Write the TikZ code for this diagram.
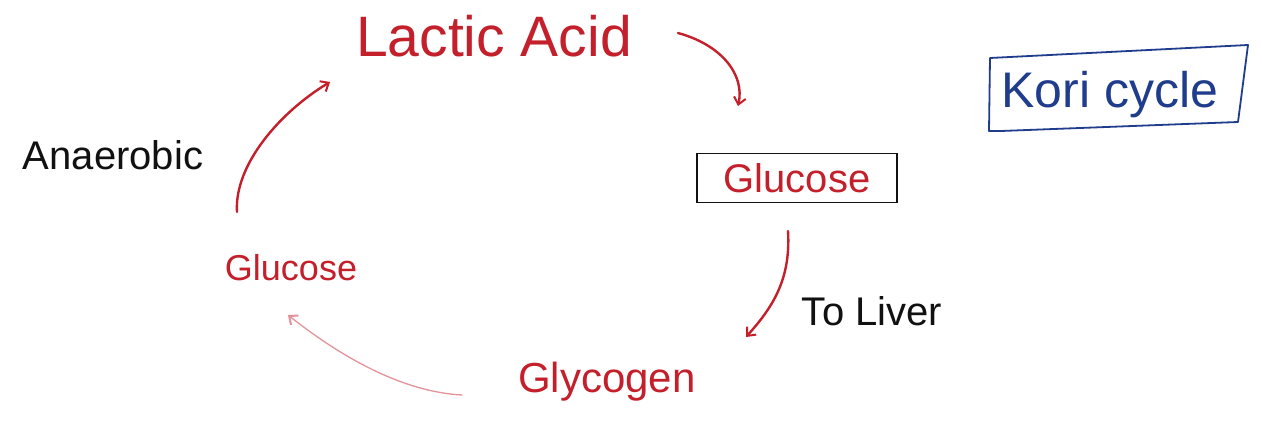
\documentclass[tikz,border=0pt]{standalone}
\usepackage{fontspec}
\setmainfont{Liberation Sans}
\usetikzlibrary{arrows.meta}
\definecolor{penred}{HTML}{C4202C}
\definecolor{penpink}{HTML}{E3939A}
\definecolor{penblue}{HTML}{203C8C}
\definecolor{penblack}{HTML}{111111}
\begin{document}
\begin{tikzpicture}[x=1pt,y=-1pt,
  lbl/.style={inner sep=1pt, anchor=center},
  redlbl/.style={lbl, text=penred},
  blklbl/.style={lbl, text=penblack},
  arr/.style={draw=penred, line width=2.4pt, line cap=round,
    -{Straight Barb[length=7pt,width=12pt,line width=2pt]}},
  arrlight/.style={arr, draw=penpink, line width=1.3pt},
  boxline/.style={draw=penblack, line width=1.8pt, line join=round}]
\useasboundingbox (0,0) rectangle (1262,444);
\fill[white] (0,0) rectangle (1262,444);

% labels
\node[redlbl, font=\fontsize{57}{60}\selectfont] (lactic) at (494,36) {Lactic Acid};
\node[blklbl, font=\fontsize{40}{44}\selectfont] (anaer) at (113,155) {Anaerobic};
\node[redlbl, font=\fontsize{36}{40}\selectfont] (gluL) at (291,268) {Glucose};
\node[redlbl, font=\fontsize{42}{46}\selectfont] (glyco) at (607,382) {Glycogen};
\node[blklbl, font=\fontsize{40}{44}\selectfont] (liver) at (872,311) {To Liver};
\node[redlbl, font=\fontsize{40}{44}\selectfont, draw=penblack, line width=1.8pt,
  minimum width=200pt, minimum height=49pt, inner sep=0pt] (gluR) at (797,178) {Glucose\hspace{12pt}};

% Kori cycle box
\node[lbl, text=penblue, font=\fontsize{50}{54}\selectfont] (cori) at (1110,95) {Kori cycle};
\draw[draw=penblue, line width=1.8pt, line join=round]
  (cori.center) ++(-120,-37) -- ++(258,-13) -- ++(-10,77) -- ++(-237,9) -- ++(-12,0) -- cycle;

% connector end points
\coordinate (a1s) at (678,33);
\coordinate (a1e) at (738,106);
\coordinate (a2s) at (788,231);
\coordinate (a2e) at (746,337);
\coordinate (a3s) at (462,395);
\coordinate (a3e) at (288,315);
\coordinate (a4s) at (237,212);
\coordinate (a4e) at (330,82);

% connectors
\draw[arr] (a1s) .. controls (722,45) and (745,75) .. (a1e);
\draw[arr] (a2s) .. controls (791,280) and (772,308) .. (a2e);
\draw[arrlight] (a3s) .. controls (405,392) and (345,360) .. (a3e);
\draw[arr] (a4s) .. controls (234,165) and (280,112) .. (a4e);
\end{tikzpicture}
\end{document}
